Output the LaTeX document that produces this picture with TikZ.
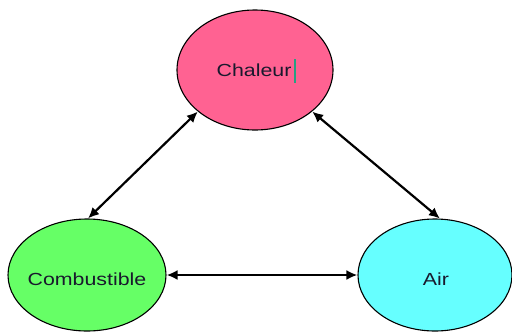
\documentclass[tikz,border=0pt]{standalone}
\usepackage{fontspec}
\setmainfont{Liberation Sans}
\usetikzlibrary{shapes.geometric,arrows.meta}
\definecolor{pinkfill}{RGB}{255,98,146}
\definecolor{greenfill}{RGB}{102,255,102}
\definecolor{cyanfill}{RGB}{102,255,255}
\definecolor{labelcol}{RGB}{25,25,45}
\definecolor{cursorcol}{RGB}{40,160,130}
\tikzset{
  blob/.style={ellipse, draw=black, line width=1.1pt, inner sep=0pt},
  lbl/.style={inner sep=0pt, text=labelcol, font=\fontsize{17.5}{20}\selectfont},
  link/.style={line width=2.2pt, {Latex[length=11pt,width=10pt]}-{Latex[length=11pt,width=10pt]}}
}
\newcommand{\wide}[1]{\scalebox{1.22}[1]{#1}}
\begin{document}
\begin{tikzpicture}[x=1pt,y=-1pt]
\useasboundingbox (0,0) rectangle (512,333);
\node[blob, fill=pinkfill, minimum width=156pt, minimum height=120pt] (chaleur) at (255,70) {};
\node[blob, fill=greenfill, minimum width=158pt, minimum height=112pt] (comb) at (87,275) {};
\node[blob, fill=cyanfill, minimum width=154pt, minimum height=112pt] (air) at (435,275) {};
\node[lbl] (tchaleur) at (254,70) {\wide{Chaleur}};
\node[lbl] (tcomb) at (87,279) {\wide{Combustible}};
\node[lbl] (tair) at (436,279) {\wide{Air}};
\draw[cursorcol, line width=1.3pt] (295,59) -- (295,83);
\draw[link] (chaleur.216) -- (comb.89);
\draw[link] (chaleur.324) -- (air.85);
\draw[link] (comb.east) -- (air.west);
\end{tikzpicture}
\end{document}
